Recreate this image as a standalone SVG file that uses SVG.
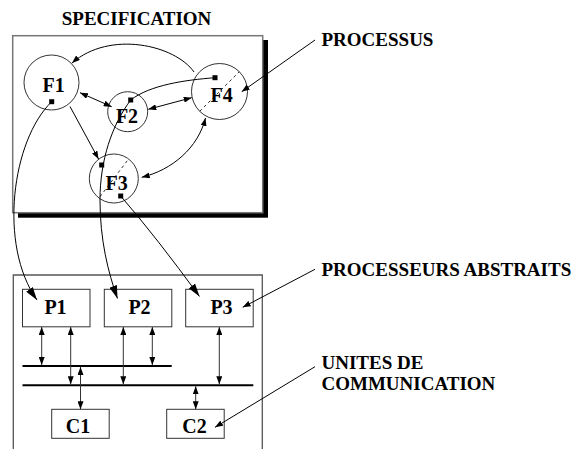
<svg xmlns="http://www.w3.org/2000/svg" width="574" height="449" viewBox="0 0 574 449">
<style>
text{font-family:"Liberation Serif","Times New Roman",serif;font-weight:bold;fill:#000}
.lab{font-size:19px}
.nl{font-size:20px;text-anchor:middle}
.frame{fill:none;stroke:#555;stroke-width:1.3}
.node{fill:#fff;stroke:#333;stroke-width:1}
.ln{fill:none;stroke:#000;stroke-width:1}
.vl{fill:none;stroke:#333;stroke-width:1;marker-start:url(#sa);marker-end:url(#sa)}
.dbl{marker-start:url(#sa);marker-end:url(#sa)}
.one{marker-end:url(#sa)}
.big{marker-end:url(#ba)}
.dash{fill:none;stroke:#000;stroke-width:0.8;stroke-dasharray:3,3}
.bus{stroke:#000;stroke-width:2}
.sq{fill:#000}
</style>
<defs>
<marker id="sa" markerUnits="userSpaceOnUse" markerWidth="8" markerHeight="6" refX="8" refY="3" orient="auto-start-reverse"><path d="M0,0 L8,3 L0,6 z" fill="#000"/></marker>
<marker id="ba" markerUnits="userSpaceOnUse" markerWidth="13" markerHeight="8" refX="13" refY="4" orient="auto"><path d="M0,0 L13,4 L0,8 z" fill="#000"/></marker>
</defs>

<g id="specification">
<text class="lab" x="136.5" y="25" text-anchor="middle">SPECIFICATION</text>
<rect x="18" y="40" width="250" height="177.7" fill="#000"/>
<rect x="12.7" y="35.7" width="250" height="177" fill="#fff" stroke="#777" stroke-width="1.5"/>
</g>

<g id="architecture">
<path class="frame" d="M13.3,449 V275 H262.3 V449"/>
</g>

<g id="F1">
<circle class="node" cx="51.5" cy="82.5" r="27.5"/>
<text class="nl" x="53.7" y="91.7">F1</text>
<rect class="sq" x="49.2" y="99.2" width="5" height="5"/>
</g>
<g id="F2">
<circle class="node" cx="127.7" cy="111.7" r="20"/>
<text class="nl" x="127" y="123">F2</text>
<rect class="sq" x="128.2" y="97.5" width="5" height="5"/>
</g>
<g id="F3">
<circle class="node" cx="113.8" cy="178.5" r="24.5"/>
<text class="nl" x="116.7" y="190">F3</text>
<rect class="sq" x="99.2" y="162.5" width="5" height="5"/>
<rect class="sq" x="118.2" y="193.5" width="5" height="5"/>
</g>
<g id="F4">
<circle class="node" cx="219.5" cy="91.5" r="28"/>
<text class="nl" x="221.7" y="102.3">F4</text>
<rect class="sq" x="212.5" y="75.2" width="5" height="5"/>
</g>

<g id="P1"><rect class="node" x="22.5" y="289.3" width="67.5" height="37.5"/><text class="nl" x="55.5" y="314">P1</text></g>
<g id="P2"><rect class="node" x="104.3" y="289.3" width="67.5" height="37.5"/><text class="nl" x="139.5" y="314">P2</text></g>
<g id="P3"><rect class="node" x="185.7" y="289.3" width="67.5" height="37.5"/><text class="nl" x="221.5" y="314">P3</text></g>
<g id="C1"><rect class="node" x="51.7" y="409.3" width="57.5" height="29"/><text class="nl" x="78" y="433">C1</text></g>
<g id="C2"><rect class="node" x="166.7" y="409.3" width="57.5" height="29"/><text class="nl" x="194.5" y="433">C2</text></g>

<g id="bus1"><line class="bus" x1="22.5" y1="366" x2="171.7" y2="366"/></g>
<g id="bus2"><line class="bus" x1="22.5" y1="385.3" x2="253.3" y2="385.3"/></g>

<g id="labels">
<text class="lab" x="321.5" y="46">PROCESSUS</text>
<text class="lab" x="321.5" y="276">PROCESSEURS ABSTRAITS</text>
<text class="lab" x="321.5" y="368.5">UNITES DE</text>
<text class="lab" x="321.5" y="390">COMMUNICATION</text>
</g>

<g id="connectors">
<line class="dash" x1="199.7" y1="111.3" x2="239.3" y2="71.7"/>
<line class="dash" x1="100" y1="196.7" x2="128.3" y2="159.3"/>
<path class="ln one" d="M194,72 C175,45 110,30 72,63"/>
<path class="ln dbl" d="M80,92.7 L111.7,106.7"/>
<path class="ln dbl" d="M148.3,109.3 L191.7,97.7"/>
<path class="ln one" d="M70,106.5 L98.5,159"/>
<path class="ln dbl" d="M205.5,118 C198,148 172,170 141.7,177.3"/>
<path class="ln" d="M215,77.7 C185,80 150,85 130.7,100"/>
<path class="ln big" d="M51.7,101.7 C12,140 -2,245 37,300"/>
<path class="ln big" d="M130.7,100 C112,125 100,160 100,200 C100,240 108,272 117.5,298.5"/>
<path class="ln big" d="M120.7,196 Q157,238 199.5,296.5"/>
<line class="vl" x1="41.7" y1="327" x2="41.7" y2="365"/>
<line class="vl" x1="70.7" y1="327" x2="70.7" y2="384.3"/>
<line class="vl" x1="80.5" y1="367" x2="80.5" y2="409.3"/>
<line class="vl" x1="123.3" y1="327" x2="123.3" y2="384.3"/>
<line class="vl" x1="152.3" y1="327" x2="152.3" y2="365"/>
<line class="vl" x1="219.3" y1="327" x2="219.3" y2="384.3"/>
<line class="vl" x1="195.7" y1="386.3" x2="195.7" y2="409.3"/>
<path class="ln one" d="M315,40 L241.7,91.7"/>
<path class="ln one" d="M315,269.3 L242.7,307.3"/>
<path class="ln one" d="M315,366.7 L215,427.3"/>
</g>
</svg>
